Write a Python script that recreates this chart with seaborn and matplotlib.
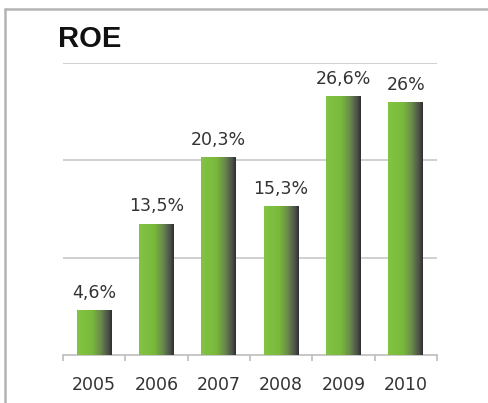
import numpy as np
import pandas as pd
import matplotlib
matplotlib.use("Agg")
import matplotlib.pyplot as plt
from matplotlib.colors import LinearSegmentedColormap
from matplotlib.lines import Line2D
import seaborn as sns

# ROE by year
years = ["2005", "2006", "2007", "2008", "2009", "2010"]
roe = [4.6, 13.5, 20.3, 15.3, 26.6, 26.0]
roe_labels = ["4,6%", "13,5%", "20,3%", "15,3%", "26,6%", "26%"]

df = pd.DataFrame({"year": years, "roe": roe})

sns.set_theme(style="white")
plt.rcParams["font.family"] = ["DejaVu Sans"]

fig = plt.figure(figsize=(4.88, 4.03), dpi=100)
ax = fig.add_axes([0.129, 0.119, 0.7665, 0.7245])

sns.barplot(data=df, x="year", y="roe", ax=ax, width=0.56,
            color="#7cbf3e", saturation=1, zorder=3)

ax.set_ylim(0, 30)
ax.set_xlim(-0.5, len(years) - 0.5)

# horizontal gradient: green on the left, shading to dark grey on the right
shade = LinearSegmentedColormap.from_list(
    "shade",
    [(0.0, "#84c444"), (0.45, "#78b83b"), (0.68, "#6a8a4c"),
     (0.9, "#4a4f48"), (1.0, "#2e2e2e")],
)
grad = np.linspace(0, 1, 256).reshape(1, -1)
for patch in ax.patches:
    x0, y0 = patch.get_x(), patch.get_y()
    w, h = patch.get_width(), patch.get_height()
    im = ax.imshow(grad, cmap=shade, aspect="auto",
                   extent=(x0, x0 + w, y0, y0 + h), zorder=3,
                   interpolation="bilinear")
    im.set_clip_path(patch)
    patch.set_facecolor("none")
    patch.set_edgecolor("none")

ax.set_ylim(0, 30)
ax.set_xlim(-0.5, len(years) - 0.5)

# value labels
for i, (v, lab) in enumerate(zip(roe, roe_labels)):
    ax.annotate(lab, (i, v), xytext=(0, 6), textcoords="offset points",
                ha="center", va="bottom", fontsize=12.5, color="#333333")

# grid and axis styling
ax.set_yticks([10, 20, 30])
ax.yaxis.grid(True, color="#c8c8c8", linewidth=1.2, zorder=0)
ax.xaxis.grid(False)
ax.tick_params(axis="y", left=False, labelleft=False)
for s in ["top", "right", "left"]:
    ax.spines[s].set_visible(False)
ax.spines["bottom"].set_color("#bdbdbd")
ax.spines["bottom"].set_linewidth(1.2)

ax.set_xticks(range(len(years)))
ax.set_xticklabels(years)
ax.tick_params(axis="x", which="major", length=0, pad=15,
               labelsize=12.5, labelcolor="#333333")
ax.set_xticks(np.arange(-0.5, len(years), 1.0), minor=True)
ax.tick_params(axis="x", which="minor", bottom=True, length=4,
               width=1.2, color="#bdbdbd", direction="out")
ax.set_xlabel("")
ax.set_ylabel("")

# title
fig.text(0.119, 0.904, "ROE", fontsize=21, fontweight="bold",
         family=["Liberation Sans", "DejaVu Sans"], color="#111111",
         ha="left", va="center")

# panel frame (left and top edges)
fig.add_artist(Line2D([0.011, 0.011], [0.0, 0.978], transform=fig.transFigure,
                      color="#b4b4b4", linewidth=1.8))
fig.add_artist(Line2D([0.011, 1.0], [0.978, 0.978], transform=fig.transFigure,
                      color="#b4b4b4", linewidth=1.8))

fig.savefig("out.png", dpi=100)
